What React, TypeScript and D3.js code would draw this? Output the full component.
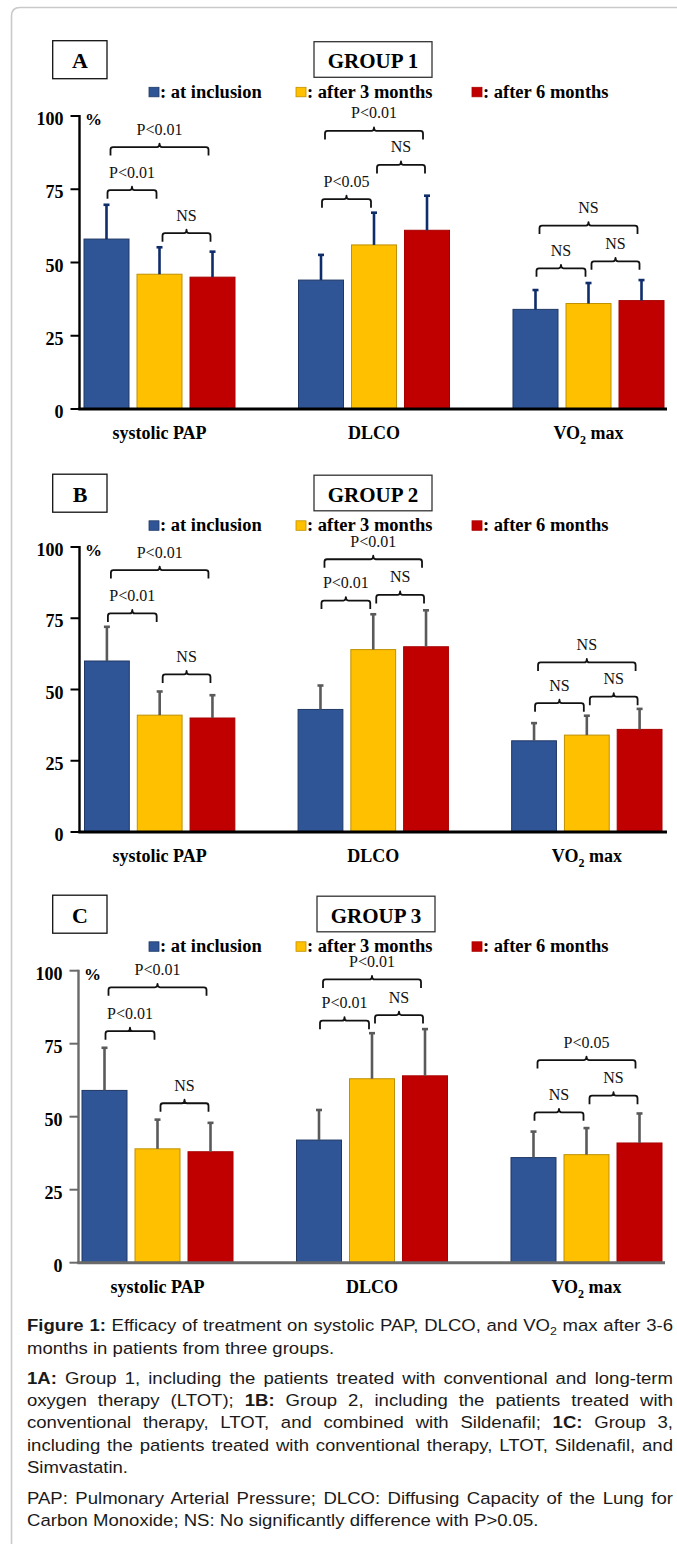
import React, { useEffect, useRef } from "react";
import * as d3 from "d3";

// ---------- data ----------
const categories = ["systolic PAP", "DLCO", "VO2 max"];
const seriesNames = ["at inclusion", "after 3 months", "after 6 months"];
const legendLabels = [": at inclusion", ": after 3 months", ": after 6 months"];
const panelLetters = ["A", "B", "C"];
const groupTitles = ["GROUP 1", "GROUP 2", "GROUP 3"];
const yTicks = [0, 25, 50, 75, 100];

// Group 1 (means, %) per category
const g1Inclusion = [58, 44, 34];
const g1After3 = [46, 56, 36];
const g1After6 = [45, 61, 37];
const g1InclusionSD = [11.7, 8.6, 6.6];
const g1After3SD = [9.2, 11, 7];
const g1After6SD = [8.7, 11.8, 7];

// Group 2
const g2Inclusion = [60, 43, 32];
const g2After3 = [41, 64, 34];
const g2After6 = [40, 65, 36];
const g2InclusionSD = [12, 8.4, 6.2];
const g2After3SD = [8.3, 12.4, 6.8];
const g2After6SD = [8, 12.8, 7.2];

// Group 3
const g3Inclusion = [59, 42, 36];
const g3After3 = [39, 63, 37];
const g3After6 = [38, 64, 41];
const g3InclusionSD = [14.6, 10.3, 8.9];
const g3After3SD = [10, 15.6, 9.1];
const g3After6SD = [9.9, 16, 10.1];

// significance brackets: [category, fromSeries, toSeries, level (%), label]
const g1Brackets: [number, number, number, number, string][] = [
  [0, 0, 2, 89.4, "P<0.01"], [0, 0, 1, 74.7, "P<0.01"], [0, 1, 2, 60, "NS"],
  [1, 0, 2, 94.9, "P<0.01"], [1, 1, 2, 83.3, "NS"], [1, 0, 1, 71.6, "P<0.05"],
  [2, 0, 2, 62.6, "NS"], [2, 0, 1, 48, "NS"], [2, 1, 2, 50.4, "NS"],
];
const g2Brackets: [number, number, number, number, string][] = [
  [0, 0, 2, 91.9, "P<0.01"], [0, 0, 1, 76.7, "P<0.01"], [0, 1, 2, 55.3, "NS"],
  [1, 0, 2, 95.7, "P<0.01"], [1, 0, 1, 81.2, "P<0.01"], [1, 1, 2, 83.2, "NS"],
  [2, 0, 2, 59.5, "NS"], [2, 0, 1, 45.2, "NS"], [2, 1, 2, 47.5, "NS"],
];
const g3Brackets: [number, number, number, number, string][] = [
  [0, 0, 2, 94.3, "P<0.01"], [0, 0, 1, 79.3, "P<0.01"], [0, 1, 2, 54.6, "NS"],
  [1, 0, 2, 97, "P<0.01"], [1, 0, 1, 82.9, "P<0.01"], [1, 1, 2, 84.8, "NS"],
  [2, 0, 2, 69.4, "P<0.05"], [2, 0, 1, 51.5, "NS"], [2, 1, 2, 57.2, "NS"],
];

const panelsData = [
  { means: [g1Inclusion, g1After3, g1After6], sds: [g1InclusionSD, g1After3SD, g1After6SD], brackets: g1Brackets },
  { means: [g2Inclusion, g2After3, g2After6], sds: [g2InclusionSD, g2After3SD, g2After6SD], brackets: g2Brackets },
  { means: [g3Inclusion, g3After3, g3After6], sds: [g3InclusionSD, g3After3SD, g3After6SD], brackets: g3Brackets },
];

type Seg = { t: string; b?: boolean; sub?: boolean; up?: boolean };
const captionLines: { segs: Seg[]; justify: boolean }[] = [
  { justify: true, segs: [{ t: "Figure 1:", b: true }, { t: " Efficacy of treatment on systolic PAP, DLCO, and VO" }, { t: "2", sub: true }, { t: " max after 3-6", up: true }] },
  { justify: false, segs: [{ t: "months in patients from three groups." }] },
  { justify: true, segs: [{ t: "1A:", b: true }, { t: " Group 1, including the patients treated with conventional and long-term" }] },
  { justify: true, segs: [{ t: "oxygen therapy (LTOT); " }, { t: "1B:", b: true }, { t: " Group 2, including the patients treated with" }] },
  { justify: true, segs: [{ t: "conventional therapy, LTOT, and combined with Sildenafil; " }, { t: "1C:", b: true }, { t: " Group 3," }] },
  { justify: true, segs: [{ t: "including the patients treated with conventional therapy, LTOT, Sildenafil, and" }] },
  { justify: false, segs: [{ t: "Simvastatin." }] },
  { justify: true, segs: [{ t: "PAP: Pulmonary Arterial Pressure; DLCO: Diffusing Capacity of the Lung for" }] },
  { justify: false, segs: [{ t: "Carbon Monoxide; NS: No significantly difference with P>0.05." }] },
];

// ---------- styling / layout ----------
const W = 677;
const H = 1544;
const SERIF = "'Times New Roman', 'Liberation Serif', serif";
const SANS = "Arial, 'Liberation Sans', sans-serif";
const fills = ["#2F5597", "#FFC000", "#C00000"];
const strokes = ["#1F3864", "#BF9000", "#A80000"];

const layouts = [
  { dy: 0, y0: 409, y100: 116, axisX: 79.5, range: [84, 664], axisEnd: 667, axisColor: "#000", errColor: "#0F2C6B", groupBoxX: 314 },
  { dy: 433.5, y0: 832, y100: 547, axisX: 79.5, range: [84.5, 662], axisEnd: 667, axisColor: "#000", errColor: "#5A5A5A", groupBoxX: 314 },
  { dy: 854.5, y0: 1262.7, y100: 970.7, axisX: 78.5, range: [82, 662], axisEnd: 665, axisColor: "#6A6A6A", errColor: "#5A5A5A", groupBoxX: 317 },
];
const legendX = [149, 296, 472];
const captionBaselines = [1331, 1354, 1384, 1406, 1428, 1451, 1473, 1504, 1526];
const captionLeft = 27;
const captionWidth = 646;
const captionScaleX = 1.125;

function bracketPath(x1: number, x2: number, yy: number) {
  const xm = (x1 + x2) / 2;
  const leg = 8.5;
  const r = 2.5;
  const n = 3.5;
  return `M${x1},${yy + leg} L${x1},${yy + r} Q${x1},${yy} ${x1 + r},${yy} L${xm - 2.5},${yy} Q${xm},${yy} ${xm},${yy - n} Q${xm},${yy} ${xm + 2.5},${yy} L${x2 - r},${yy} Q${x2},${yy} ${x2},${yy + r} L${x2},${yy + leg}`;
}

function CategoryLabel({ cat, x, y }: { cat: string; x: number; y: number }) {
  if (cat === "VO2 max") {
    return (
      <text x={x} y={y} textAnchor="middle" fontFamily={SERIF} fontWeight="bold" fontSize={18}>
        <tspan>VO</tspan>
        <tspan fontSize={12} dy={5}>2</tspan>
        <tspan dy={-5}> max</tspan>
      </text>
    );
  }
  return (
    <text x={x} y={y} textAnchor="middle" fontFamily={SERIF} fontWeight="bold" fontSize={18}>
      {cat}
    </text>
  );
}

function Panel({ idx }: { idx: number }) {
  const L = layouts[idx];
  const D = panelsData[idx];
  const y = d3.scaleLinear().domain([0, 100]).range([L.y0, L.y100]);
  const x0 = d3.scaleBand<string>().domain(categories).range(L.range as [number, number]).paddingInner(0.296).paddingOuter(0);
  const x1 = d3.scaleBand<string>().domain(seriesNames).range([0, x0.bandwidth()]).paddingInner(0.151);
  const center = (c: number, s: number) => (x0(categories[c]) as number) + (x1(seriesNames[s]) as number) + x1.bandwidth() / 2;
  const dy = L.dy;

  return (
    <g>
      {/* header */}
      <rect x={52.7} y={40.7 + dy} width={54.3} height={38} fill="#fff" stroke="#111" strokeWidth={1.3} />
      <text x={80} y={68.3 + dy} textAnchor="middle" fontFamily={SERIF} fontWeight="bold" fontSize={22}>
        {panelLetters[idx]}
      </text>
      <rect x={L.groupBoxX} y={41.7 + dy} width={118} height={35.6} fill="#fff" stroke="#333" strokeWidth={1.3} />
      <text x={L.groupBoxX + 59} y={68.3 + dy} textAnchor="middle" fontFamily={SERIF} fontWeight="bold" fontSize={21}>
        {groupTitles[idx]}
      </text>
      {/* legend */}
      {seriesNames.map((s, i) => (
        <g key={s}>
          <rect x={legendX[i]} y={87.3 + dy} width={10} height={9.5} fill={fills[i]} stroke={strokes[i]} strokeWidth={0.8} />
          <text x={legendX[i] + 11} y={97.5 + dy} fontFamily={SERIF} fontWeight="bold" fontSize={18.5}>
            {legendLabels[i]}
          </text>
        </g>
      ))}

      {/* bars */}
      {categories.map((c, ci) =>
        seriesNames.map((s, si) => {
          const v = D.means[si][ci];
          const bx = (x0(c) as number) + (x1(s) as number);
          return (
            <rect
              key={c + s}
              x={bx}
              y={y(v)}
              width={x1.bandwidth()}
              height={y(0) - y(v)}
              fill={fills[si]}
              stroke={strokes[si]}
              strokeWidth={1}
            />
          );
        })
      )}
      {/* error bars */}
      {categories.map((c, ci) =>
        seriesNames.map((s, si) => {
          const v = D.means[si][ci];
          const e = D.sds[si][ci];
          const cx = center(ci, si);
          return (
            <g key={"e" + c + s} stroke={L.errColor} strokeWidth={2.6}>
              <line x1={cx} x2={cx} y1={y(v)} y2={y(v + e)} />
              <line x1={cx - 3} x2={cx + 3} y1={y(v + e)} y2={y(v + e)} />
            </g>
          );
        })
      )}

      {/* axes */}
      <line x1={L.axisX} x2={L.axisX} y1={y(100) - 1} y2={y(0)} stroke={L.axisColor} strokeWidth={2.4} />
      <line x1={L.axisX - 1.2} x2={L.axisEnd} y1={y(0)} y2={y(0)} stroke={L.axisColor} strokeWidth={3} />
      {yTicks.map((t) => (
        <g key={t}>
          <line x1={L.axisX - 9} x2={L.axisX} y1={y(t)} y2={y(t)} stroke={L.axisColor} strokeWidth={2} />
          <text x={L.axisX - 16} y={y(t) + 9} textAnchor="end" fontFamily={SERIF} fontWeight="bold" fontSize={18}>
            {t}
          </text>
        </g>
      ))}
      <text x={L.axisX + 5.5} y={y(100) + 9} fontFamily={SERIF} fontWeight="bold" fontSize={17}>
        %
      </text>
      {categories.map((c) => (
        <CategoryLabel key={c} cat={c} x={(x0(c) as number) + x0.bandwidth() / 2} y={y(0) + 30} />
      ))}

      {/* significance brackets */}
      {D.brackets.map(([ci, f, t, lvl, lab], k) => {
        const xa = center(ci, f) + (f === 0 ? (t === 2 ? 4 : 1) : 3);
        const xb = center(ci, t) - (t === 2 ? (f === 0 ? 4 : 2) : 3);
        const yy = y(lvl);
        return (
          <g key={"b" + k}>
            <path d={bracketPath(xa, xb, yy)} fill="none" stroke="#111" strokeWidth={1.8} strokeLinejoin="round" />
            <text x={(xa + xb) / 2} y={yy - 12.5} textAnchor="middle" fontFamily={SERIF} fontSize={16} fill="#111">
              {lab}
            </text>
          </g>
        );
      })}
    </g>
  );
}

export default function App() {
  const ref = useRef<SVGSVGElement>(null);

  useEffect(() => {
    const run = () => {
      if (!ref.current) return;
      d3.select(ref.current)
        .selectAll<SVGTextElement, unknown>("text.justify")
        .each(function () {
          const el = this as SVGTextElement;
          el.style.wordSpacing = "0px";
          const len = el.getComputedTextLength();
          const target = captionWidth / captionScaleX;
          const spaces = ((el.textContent || "").match(/ /g) || []).length;
          if (spaces > 0) el.style.wordSpacing = `${(target - len) / spaces}px`;
        });
    };
    run();
    if ((document as any).fonts && (document as any).fonts.ready) {
      (document as any).fonts.ready.then(run);
    }
  }, []);

  return (
    <svg
      ref={ref}
      width={W}
      height={H}
      viewBox={`0 0 ${W} ${H}`}
      style={{ position: "absolute", left: 0, top: 0, background: "#fff" }}
    >
      <rect x={0} y={0} width={W} height={H} fill="#fff" />
      <path d={`M${W + 20},7.5 L20,7.5 Q11.5,7.5 11.5,16 L11.5,${H + 20}`} fill="none" stroke="#c9c9c9" strokeWidth={1.6} />
      {[0, 1, 2].map((i) => (
        <Panel key={i} idx={i} />
      ))}
      {captionLines.map((line, i) => (
        <text
          key={i}
          className={line.justify ? "justify" : undefined}
          transform={`translate(${captionLeft},${captionBaselines[i]}) scale(${captionScaleX},1)`}
          fontFamily={SANS}
          fontSize={16.5}
          fill="#1a1a1a"
          style={{ whiteSpace: "pre" }}
        >
          {line.segs.map((s, k) => (
            <tspan
              key={k}
              fontWeight={s.b ? "bold" : "normal"}
              fontSize={s.sub ? 11 : undefined}
              dy={s.sub ? 4 : s.up ? -4 : undefined}
            >
              {s.t}
            </tspan>
          ))}
        </text>
      ))}
    </svg>
  );
}
